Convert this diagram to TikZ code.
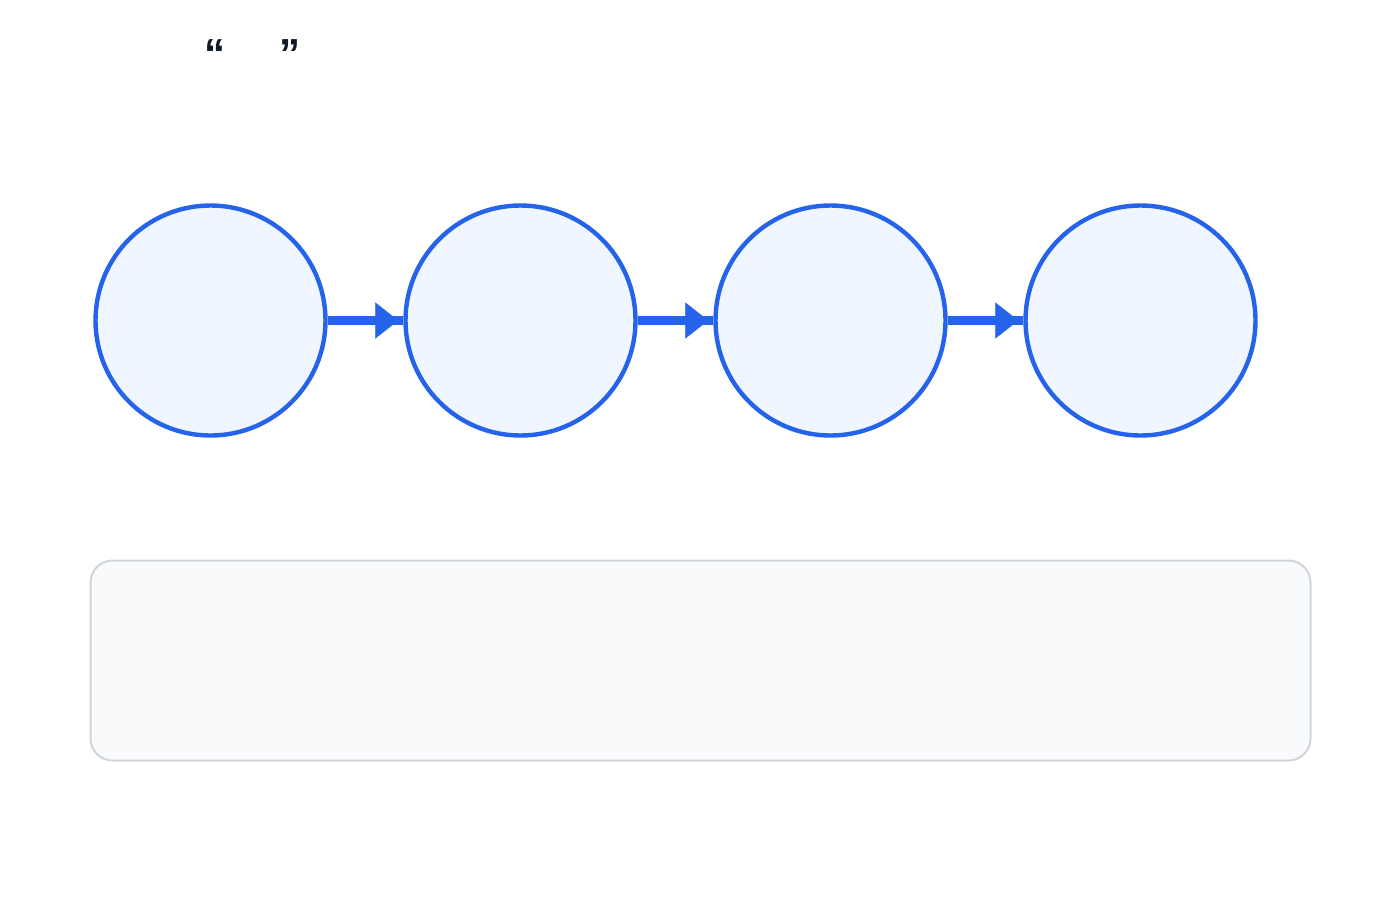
\documentclass[tikz,border=0pt]{standalone}
\usepackage{fontspec}
\setmainfont{Liberation Sans}
\usetikzlibrary{arrows.meta}
\definecolor{blueA}{HTML}{2563EB}
\definecolor{blueFill}{HTML}{EFF6FF}
\definecolor{boxFill}{HTML}{F8FAFC}
\definecolor{boxLine}{HTML}{D1D5DB}
\definecolor{ink}{HTML}{111827}
\tikzset{
  stage/.style={circle, draw=blueA, fill=blueFill, line width=2.2pt, minimum size=115pt, inner sep=0pt},
  conn/.style={draw=blueA, line width=4.6pt, postaction={draw=blueA, line width=0.1pt, shorten >=2.5pt, -{Triangle[length=11.5pt,width=18pt]}}},
  quote/.style={text=ink, font=\fontsize{21}{24}\selectfont\bfseries, inner sep=0pt},
  panel/.style={draw=boxLine, fill=boxFill, line width=1pt, rounded corners=11pt}
}
\begin{document}
\begin{tikzpicture}[x=0.5pt,y=-0.5pt]
\useasboundingbox (0,0) rectangle (1400,900);
\node[quote, anchor=north] (ql) at (215,39) {“};
\node[quote, anchor=north] (qr) at (290,39) {”};
\node[stage] (s1) at (210.5,320.5) {};
\node[stage] (s2) at (520.5,320.5) {};
\node[stage] (s3) at (830.5,320.5) {};
\node[stage] (s4) at (1140.5,320.5) {};
\draw[conn] (s1) -- (s2);
\draw[conn] (s2) -- (s3);
\draw[conn] (s3) -- (s4);
\node[panel, minimum width=610pt, minimum height=100pt, inner sep=0pt] (pnl) at (700.5,660.5) {};
\end{tikzpicture}
\end{document}
